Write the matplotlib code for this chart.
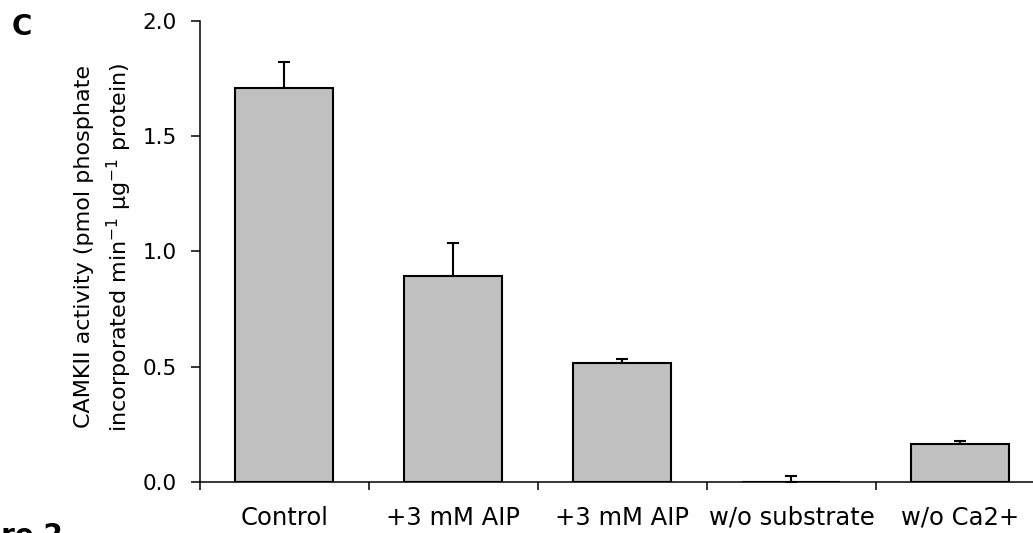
import matplotlib.pyplot as plt
import numpy as np

plt.rcParams["font.family"] = ["DejaVu Sans"]
plt.rcParams["mathtext.fontset"] = "dejavusans"

# data
categories = ["Control", "+3 mM AIP", "+3 mM AIP", "w/o substrate", "w/o Ca2+"]
activity = [1.71, 0.895, 0.515, 0.0, 0.165]
err_up = [0.11, 0.14, 0.02, 0.025, 0.015]
yticks = [0.0, 0.5, 1.0, 1.5, 2.0]

fig = plt.figure(figsize=(10.33, 5.33), dpi=100)
ax = fig.add_axes([0.1936, 0.0957, 0.818, 0.8649])

x = np.arange(len(categories)) + 0.5
ax.bar(x, activity, width=0.58, color="#c0c0c0", edgecolor="black", linewidth=1.5, zorder=2)
ax.errorbar(x, activity, yerr=[np.zeros(len(err_up)), err_up], fmt="none",
            ecolor="black", elinewidth=1.5, capsize=4.5, capthick=1.5, zorder=1)

ax.set_xlim(0, len(categories))
ax.set_ylim(0, 2.0)
ax.set_yticks(yticks)
ax.set_yticklabels([f"{v:.1f}" for v in yticks])
ax.tick_params(axis="y", direction="out", length=6.5, width=1.1, labelsize=15.5, pad=10)

# ticks on category borders, labels in the middle
ax.set_xticks(np.arange(len(categories) + 1))
ax.set_xticklabels([])
ax.set_xticks(x, minor=True)
ax.set_xticklabels(categories, minor=True)
ax.tick_params(axis="x", which="major", direction="out", length=6, width=1.1)
ax.tick_params(axis="x", which="minor", length=0, labelsize=17.5, pad=17)

for side in ["top", "right"]:
    ax.spines[side].set_visible(False)
for side in ["left", "bottom"]:
    ax.spines[side].set_linewidth(1.1)
    ax.spines[side].set_zorder(3)

fig.text(0.1007, 0.5366,
         "CAMKII activity (pmol phosphate\nincorporated min$^{-1}$ µg$^{-1}$ protein)",
         rotation=90, ha="center", va="center", multialignment="center",
         fontsize=16, linespacing=1.45)

fig.text(0.011, 0.975, "C", fontsize=20, fontweight="bold", ha="left", va="top")
fig.text(0.061, 0.02, "Figure 2", fontsize=20, fontweight="bold", ha="right", va="top")

fig.savefig("out.png", dpi=100)
